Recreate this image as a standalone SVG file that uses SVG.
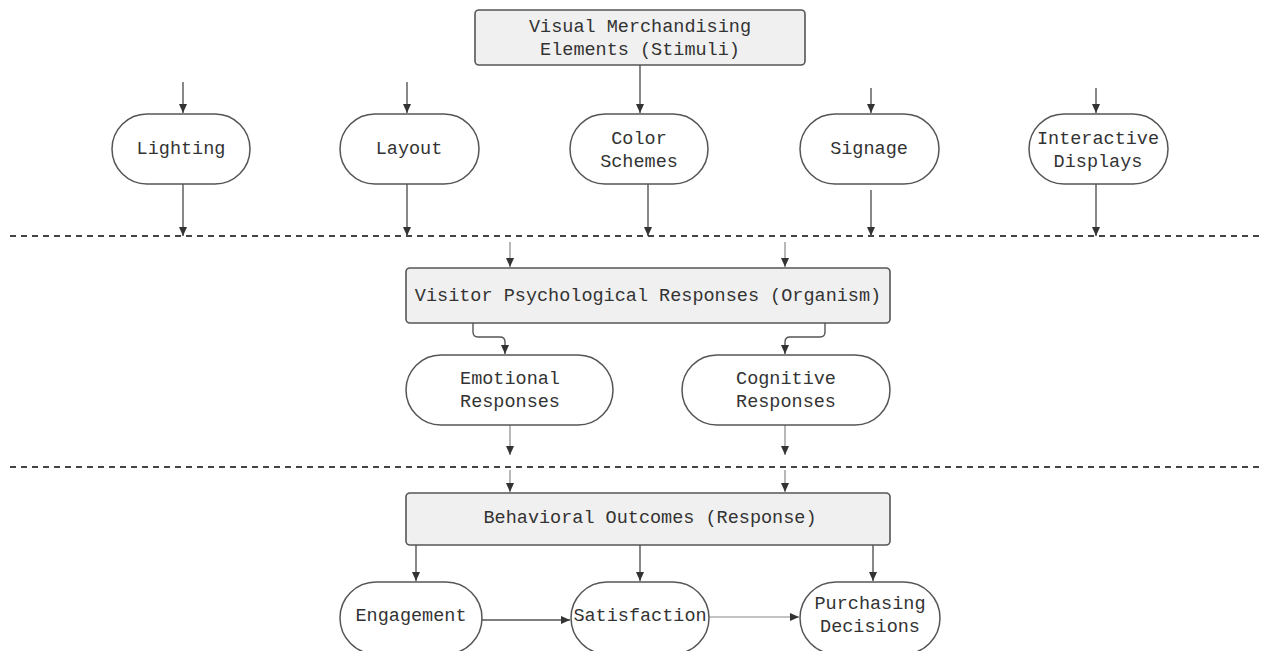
<svg xmlns="http://www.w3.org/2000/svg" width="1264" height="651" viewBox="0 0 1264 651">
<style>
.box{fill:#f0f0f0;stroke:#555;stroke-width:1.6}
.pill{fill:#fff;stroke:#555;stroke-width:1.5}
.t{font-family:"Liberation Mono","Courier New",monospace;font-size:18.5px;fill:#333;text-anchor:middle;dominant-baseline:central}
.c{fill:none;stroke:#555;stroke-width:1.4}
.cf{fill:none;stroke:#888;stroke-width:1.2}
.dash{fill:none;stroke:#444;stroke-width:2.2;stroke-dasharray:6 5}
</style>
<defs>
<marker id="ah" markerUnits="userSpaceOnUse" markerWidth="10" markerHeight="10" refX="9" refY="5" orient="auto">
<path d="M0,1 L9,5 L0,9 z" fill="#333"/>
</marker>
</defs>
<rect width="1264" height="651" fill="#fff"/>
<g id="separators">
<line class="dash" x1="10" y1="236" x2="1264" y2="236"/>
<line class="dash" x1="10" y1="467" x2="1264" y2="467"/>
</g>
<g id="connectors">
<line class="c" x1="640" y1="65" x2="640" y2="113" marker-end="url(#ah)"/>
<line class="c" x1="183" y1="82" x2="183" y2="113" marker-end="url(#ah)"/>
<line class="c" x1="407" y1="82" x2="407" y2="113" marker-end="url(#ah)"/>
<line class="c" x1="871" y1="88" x2="871" y2="113" marker-end="url(#ah)"/>
<line class="c" x1="1096" y1="88" x2="1096" y2="113" marker-end="url(#ah)"/>
<line class="c" x1="183" y1="184" x2="183" y2="236" marker-end="url(#ah)"/>
<line class="c" x1="407" y1="184" x2="407" y2="236" marker-end="url(#ah)"/>
<line class="c" x1="648" y1="184" x2="648" y2="236" marker-end="url(#ah)"/>
<line class="c" x1="871" y1="190" x2="871" y2="236" marker-end="url(#ah)"/>
<line class="c" x1="1096" y1="184" x2="1096" y2="236" marker-end="url(#ah)"/>
<line class="cf" x1="510" y1="242" x2="510" y2="267" marker-end="url(#ah)"/>
<line class="cf" x1="785" y1="242" x2="785" y2="267" marker-end="url(#ah)"/>
<path class="c" d="M473,323 V332 Q473,337 478,337 H500 Q505,337 505,342 V354" marker-end="url(#ah)"/>
<path class="c" d="M825,323 V332 Q825,337 820,337 H790 Q785,337 785,342 V354" marker-end="url(#ah)"/>
<line class="cf" x1="510" y1="425" x2="510" y2="455" marker-end="url(#ah)"/>
<line class="cf" x1="785" y1="425" x2="785" y2="455" marker-end="url(#ah)"/>
<line class="cf" x1="510" y1="470" x2="510" y2="492" marker-end="url(#ah)"/>
<line class="cf" x1="785" y1="470" x2="785" y2="492" marker-end="url(#ah)"/>
<line class="c" x1="416" y1="545" x2="416" y2="581" marker-end="url(#ah)"/>
<line class="c" x1="640" y1="545" x2="640" y2="581" marker-end="url(#ah)"/>
<line class="c" x1="873" y1="545" x2="873" y2="581" marker-end="url(#ah)"/>
<line class="c" x1="482" y1="620" x2="570" y2="620" marker-end="url(#ah)"/>
<line class="cf" x1="709" y1="617" x2="799" y2="617" marker-end="url(#ah)"/>
</g>
<g id="n-stimuli">
<rect class="box" x="475" y="10" width="330" height="55" rx="4"/>
<text class="t" x="640" y="27">Visual Merchandising</text>
<text class="t" x="640" y="50">Elements (Stimuli)</text>
</g>
<g id="n-lighting">
<rect class="pill" x="112" y="114" width="138" height="70" rx="35"/>
<text class="t" x="181" y="149">Lighting</text>
</g>
<g id="n-layout">
<rect class="pill" x="340" y="114" width="139" height="70" rx="35"/>
<text class="t" x="409" y="149">Layout</text>
</g>
<g id="n-color">
<rect class="pill" x="570" y="114" width="138" height="70" rx="35"/>
<text class="t" x="639" y="139">Color</text>
<text class="t" x="639" y="162">Schemes</text>
</g>
<g id="n-signage">
<rect class="pill" x="800" y="114" width="139" height="70" rx="35"/>
<text class="t" x="869" y="149">Signage</text>
</g>
<g id="n-interactive">
<rect class="pill" x="1029" y="114" width="139" height="70" rx="35"/>
<text class="t" x="1098" y="139">Interactive</text>
<text class="t" x="1098" y="162">Displays</text>
</g>
<g id="n-organism">
<rect class="box" x="406" y="268" width="484" height="55" rx="4"/>
<text class="t" x="648" y="296">Visitor Psychological Responses (Organism)</text>
</g>
<g id="n-emotional">
<rect class="pill" x="406" y="355" width="207" height="70" rx="35"/>
<text class="t" x="510" y="379">Emotional</text>
<text class="t" x="510" y="402">Responses</text>
</g>
<g id="n-cognitive">
<rect class="pill" x="682" y="355" width="208" height="70" rx="35"/>
<text class="t" x="786" y="379">Cognitive</text>
<text class="t" x="786" y="402">Responses</text>
</g>
<g id="n-response">
<rect class="box" x="406" y="493" width="484" height="52" rx="4"/>
<text class="t" x="650" y="518">Behavioral Outcomes (Response)</text>
</g>
<g id="n-engagement">
<rect class="pill" x="340" y="582" width="142" height="72" rx="36"/>
<text class="t" x="411" y="616">Engagement</text>
</g>
<g id="n-satisfaction">
<rect class="pill" x="571" y="582" width="138" height="72" rx="36"/>
<text class="t" x="640" y="616">Satisfaction</text>
</g>
<g id="n-purchasing">
<rect class="pill" x="800" y="582" width="140" height="72" rx="36"/>
<text class="t" x="870" y="604">Purchasing</text>
<text class="t" x="870" y="627">Decisions</text>
</g>
</svg>
